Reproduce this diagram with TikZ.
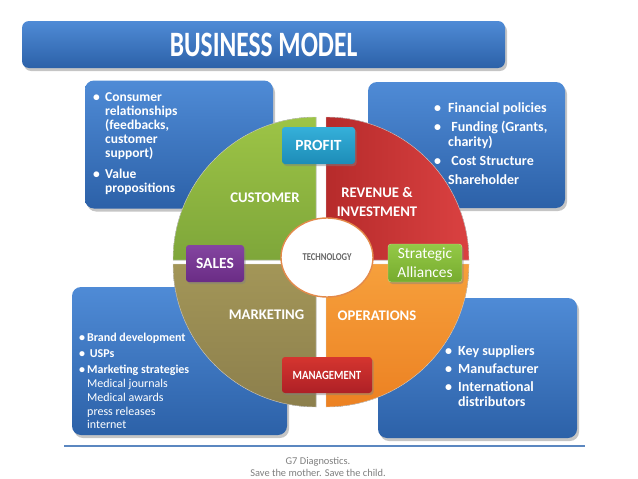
\documentclass[tikz,border=0pt]{standalone}
\usepackage{fontspec}
\setmainfont{Carlito}
\usetikzlibrary{shadows,shapes.geometric}

\definecolor{boxtop}{HTML}{4F8BD6}
\definecolor{boxbot}{HTML}{2C61A8}
\definecolor{custgreen}{HTML}{9DC446}
\definecolor{custgreenB}{HTML}{7EA63A}
\definecolor{revred}{HTML}{B62B2B}
\definecolor{revredB}{HTML}{DA4141}
\definecolor{mktolive}{HTML}{A39658}
\definecolor{mktoliveB}{HTML}{8C7F4C}
\definecolor{oporange}{HTML}{F6A03C}
\definecolor{oporangeB}{HTML}{EC8122}
\definecolor{profitcyan}{HTML}{35B0DA}
\definecolor{profitcyanB}{HTML}{1D8CB7}
\definecolor{salespurple}{HTML}{8445A0}
\definecolor{salespurpleB}{HTML}{6A2C85}
\definecolor{allygreen}{HTML}{94C947}
\definecolor{allygreenB}{HTML}{76AB2E}
\definecolor{mgmtred}{HTML}{D5352F}
\definecolor{mgmtredB}{HTML}{AE2026}
\definecolor{techrim}{HTML}{E38A4B}
\definecolor{techgray}{HTML}{666666}
\definecolor{footgray}{HTML}{7F7F7F}
\definecolor{ruleblue}{HTML}{5B87C0}

\newcommand\bul[1]{\makebox[#1][l]{\textbullet}}
\newcommand\ind[1]{\hspace*{#1}}

\begin{document}
\begin{tikzpicture}[x=1pt,y=-1pt,
  panel/.style={rounded corners=9pt, top color=boxtop, bottom color=boxbot, text=white,
    inner sep=0pt, drop shadow={opacity=.45,shadow xshift=2pt,shadow yshift=-3pt}},
  quarter/.style={draw=white!85!black, line width=.4pt},
  qlabel/.style={text=white, align=center, font=\fontsize{14.7}{19}\selectfont\bfseries},
  tag/.style={rounded corners=3pt, text=white, inner sep=0pt, align=center,
    drop shadow={opacity=.45,shadow xshift=1.5pt,shadow yshift=-2pt}},
  blurb/.style={text=white, anchor=north west, inner sep=0pt, align=left}]
\useasboundingbox[fill=white] (0,0) rectangle (638,479);

% heading
\node[panel, rounded corners=7pt, minimum width=483pt, minimum height=47pt] (title) at (263.5,44.5)
  {\raisebox{-2pt}{\scalebox{1}[1.4]{\fontsize{25.5}{26}\selectfont\bfseries BUSINESS MODEL}}};

% side panels
\node[panel, minimum width=188pt, minimum height=128pt] (custbox) at (179,144.5) {};
\node[panel, minimum width=197pt, minimum height=126pt] (revbox) at (466.5,145) {};
\node[panel, minimum width=215pt, minimum height=148pt] (mktbox) at (179.5,361) {};
\node[panel, minimum width=199pt, minimum height=140pt] (opbox) at (477.5,368) {};

\node[blurb, font=\fontsize{13.5}{14}\selectfont\bfseries] (custtext) at (93,92.5)
  {\bul{12pt}Consumer\\ \ind{12pt}relationships\\ \ind{12pt}(feedbacks,\\
   \ind{12pt}customer\\ \ind{12pt}support)\\[7pt] \bul{12pt}Value\\ \ind{12pt}propositions};
\node[blurb, font=\fontsize{14}{15}\selectfont\bfseries] (revtext) at (434,102.5)
  {\bul{14pt}Financial policies\\[4pt] \bul{14pt}\ Funding (Grants,\\ \ind{14pt}charity)\\[4pt]
   \bul{14pt}\ Cost Structure\\[4pt] \ind{14pt}Shareholder};
\node[blurb, font=\fontsize{12}{13.8}\selectfont] (mkttext) at (79,333)
  {\textbf{\bul{8pt}Brand development}\\[2pt] \textbf{\bul{8pt}\ USPs}\\[2.5pt]
   \textbf{\bul{8pt}Marketing strategies}\\ \ind{8pt}Medical journals\\ \ind{8pt}Medical awards\\
   \ind{8pt}press releases\\ \ind{8pt}internet};
\node[blurb, font=\fontsize{14}{15}\selectfont\bfseries] (optext) at (445,345.5)
  {\bul{13pt}Key suppliers\\[3pt] \bul{13pt}Manufacturer\\[3pt] \bul{13pt}International\\ \ind{13pt}distributors};

% the four quarters
\fill[quarter, top color=custgreen, bottom color=custgreenB]
  (316,260) -- ++(-143,0) arc[start angle=180, end angle=270, radius=143] -- cycle;
\fill[quarter, left color=revred, right color=revredB]
  (326,260) -- ++(0,-143) arc[start angle=270, end angle=360, radius=143] -- cycle;
\fill[quarter, top color=mktolive, bottom color=mktoliveB]
  (316,264) -- ++(0,143) arc[start angle=90, end angle=180, radius=143] -- cycle;
\fill[quarter, top color=oporange, bottom color=oporangeB]
  (326,264) -- ++(143,0) arc[start angle=0, end angle=90, radius=143] -- cycle;

\node[qlabel] (customer) at (265,197.5) {CUSTOMER};
\node[qlabel] (revenue) at (377,202) {REVENUE \&\\INVESTMENT};
\node[qlabel] (marketing) at (266.5,315) {MARKETING};
\node[qlabel] (operations) at (377,316) {OPERATIONS};

% hub and tags
\node[ellipse, draw=techrim, line width=1.4pt, fill=white, minimum width=92pt, minimum height=79pt,
  text=techgray, font=\fontsize{10.5}{10}\selectfont\bfseries] (tech) at (327,257.5)
  {\scalebox{.82}[1]{TECHNOLOGY}};
\node[tag, top color=profitcyan, bottom color=profitcyanB, minimum width=73pt, minimum height=37pt,
  font=\fontsize{15.5}{16}\selectfont\bfseries] (profit) at (318.5,145.5) {PROFIT};
\node[tag, top color=salespurple, bottom color=salespurpleB, minimum width=58pt, minimum height=37pt,
  font=\fontsize{15.5}{16}\selectfont\bfseries] (sales) at (215,263.5) {SALES};
\node[tag, top color=allygreen, bottom color=allygreenB, draw=allygreen!60!white, minimum width=74pt,
  minimum height=38pt, font=\fontsize{15.4}{18.5}\selectfont] (alliances) at (425,263) {Strategic\\Alliances};
\node[tag, top color=mgmtred, bottom color=mgmtredB, minimum width=90pt, minimum height=36pt,
  font=\fontsize{12.5}{12}\selectfont\bfseries] (management) at (327,375)
  {\scalebox{.86}[1]{MANAGEMENT}};

% footer
\coordinate (ruleL) at (64,446);
\coordinate (ruleR) at (585,446);
\draw[ruleblue, line width=1.3pt] (ruleL) -- (ruleR);
\node[text=footgray, align=center, font=\fontsize{10.4}{12}\selectfont] (footer) at (318,467)
  {G7 Diagnostics.\\Save the mother. Save the child.};
\end{tikzpicture}
\end{document}
